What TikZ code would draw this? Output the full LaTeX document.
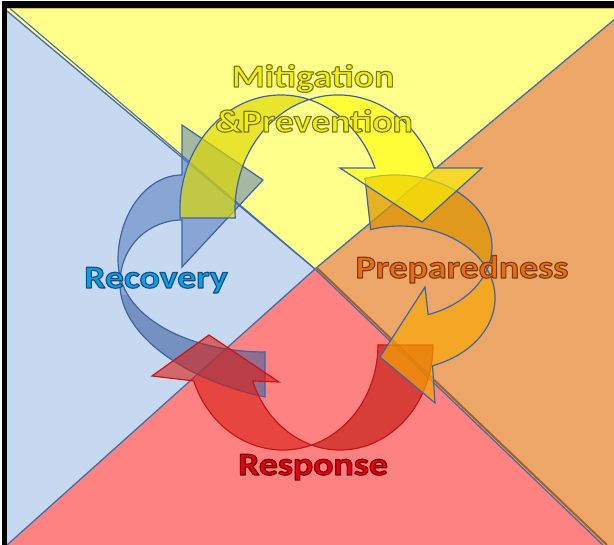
\documentclass[tikz,border=0pt]{standalone}
\usepackage{fontspec}
\newfontfamily\lblfont{Carlito}[FakeStretch=1.18]
\definecolor{bgY}{RGB}{255,255,140}
\definecolor{bgO}{RGB}{236,166,104}
\definecolor{bgR}{RGB}{255,130,130}
\definecolor{bgB}{RGB}{198,217,240}
\definecolor{edgeC}{RGB}{70,108,168}
\definecolor{brownC}{RGB}{165,95,45}
\definecolor{arrC}{RGB}{62,100,168}
\definecolor{redC}{RGB}{205,20,20}
\definecolor{fY}{RGB}{255,250,0}
\definecolor{fO}{RGB}{248,168,0}
\definecolor{fR}{RGB}{215,30,20}
\definecolor{fB}{RGB}{75,115,185}
\definecolor{tY}{RGB}{240,240,20}
\definecolor{tB}{RGB}{10,160,232}
\definecolor{tO}{RGB}{232,110,15}
\definecolor{tR}{RGB}{228,0,18}

\newcommand\ypath{(180.2,218) arc[start angle=176,end angle=338.6,x radius=101,y radius=115] -- (340,168) -- (422,222) -- (482,168) -- (433.9,168) arc[start angle=338.6,end angle=176,x radius=103,y radius=115] -- cycle}
\newcommand\opath{(365,178.5) arc[start angle=252,end angle=430,x radius=97,y radius=72] -- (425,287) -- (380,357) -- (435,403) -- (432.5,365.7) arc[start angle=430,end angle=252,x radius=95,y radius=72] -- cycle}
\newcommand\rpath{(433,345) arc[start angle=0,end angle=160,x radius=93,y radius=105] -- (279,382) -- (209,335) -- (152,376) -- (193.7,380.9) arc[start angle=160,end angle=0,x radius=95,y radius=105] -- cycle}
\newcommand\bpath{(182,175) .. controls (146,175) and (118,215) .. (118,260) .. controls (118,318) and (190,352) .. (265,352) -- (265,397) .. controls (185,380) and (120,335) .. (120,284) .. controls (120,245) and (150,220) .. (182,220) -- (182,267) -- (263,180) -- (182,125) -- cycle}

% text filled in one colour and stroked with a darker outline
\newcommand\outl[3]{% #1 fill colour, #2 stroke rgb (0..1), #3 text
  \textcolor{#1}{\special{pdf:literal direct 2 Tr 1.15 w 1 j #2 RG}#3\special{pdf:literal direct 0 Tr}}}

\begin{document}
\begin{tikzpicture}[x=1pt,y=1pt,yscale=-1,
  lbl/.style={font=\lblfont\bfseries\fontsize{32}{36}\selectfont, inner sep=0pt, anchor=base},
  tedge/.style={edgeC, line width=1.3pt},
  arrout/.style={arrC, line width=1.2pt, line join=miter},
  redout/.style={redC, line width=1.2pt, line join=miter}]
\useasboundingbox (0,0) rectangle (614,545);
\fill[white] (0,0) rectangle (614,545);
\fill[black] (1.5,1.5) rectangle (614,545);
\begin{scope}
  \clip (7,9) rectangle (614,545);
  \fill[bgO] (0,0) rectangle (640,560);
  \fill[bgY] (315,269) -- (7,11) -- (7,9) -- (627,9) -- cycle;
  \fill[bgB] (315,269) -- (7,11) -- (7,545) -- cycle;
  \fill[bgR] (315,269) -- (7,545) -- (603,545) -- cycle;
  \draw[tedge] (315,269) -- (7,11);
  \draw[edgeC, line width=1.1pt] (315,269) -- (10,8.5);
  \draw[brownC, line width=2pt] (317,268) -- (607,545);
  \draw[tedge] (315,269) -- (603,545);
  \draw[tedge] (315,269) -- (627,9);
  \draw[tedge] (315,269) -- (7,545);
\end{scope}
% blue arrow (Recovery)
\fill[fB, fill opacity=.5] \bpath;
\begin{scope}\clip (0,296) rectangle (300,420); \fill[fB!60!black, fill opacity=.2] \bpath; \end{scope}
\draw[arrout] \bpath;
% red arrow (Response)
\fill[fR, fill opacity=.6] \rpath;
\begin{scope}\clip (311.5,300) rectangle (450,470); \fill[fR!60!black, fill opacity=.15] \rpath; \end{scope}
\draw[redout] \rpath;
% orange arrow (Preparedness)
\fill[fO, fill opacity=.65] \opath;
\begin{scope}\clip (340,150) rectangle (520,269); \fill[fO!60!black, fill opacity=.2] \opath; \end{scope}
\draw[arrout] \opath;
% yellow arrow (Mitigation)
\fill[fY, fill opacity=.6] \ypath;
\begin{scope}\clip (150,80) rectangle (309,240); \fill[fY!55!black, fill opacity=.2] \ypath; \end{scope}
\draw[arrout] \ypath;
% labels
\node[lbl] (mit)  at (313,87)  {\outl{tY}{0.5 0.47 0.05}{Mitigation}};
\node[lbl] (prev) at (314,132) {\outl{tY}{0.5 0.47 0.05}{\&Prevention}};
\node[lbl] (rec)  at (156,288) {\outl{tB}{0.1 0.3 0.52}{Recovery}};
\node[lbl] (prep) at (462,278) {\outl{tO}{0.5 0.24 0.05}{Preparedness}};
\node[lbl] (resp) at (313,475) {\outl{tR}{0.45 0.0 0.0}{Response}};
\end{tikzpicture}
\end{document}
